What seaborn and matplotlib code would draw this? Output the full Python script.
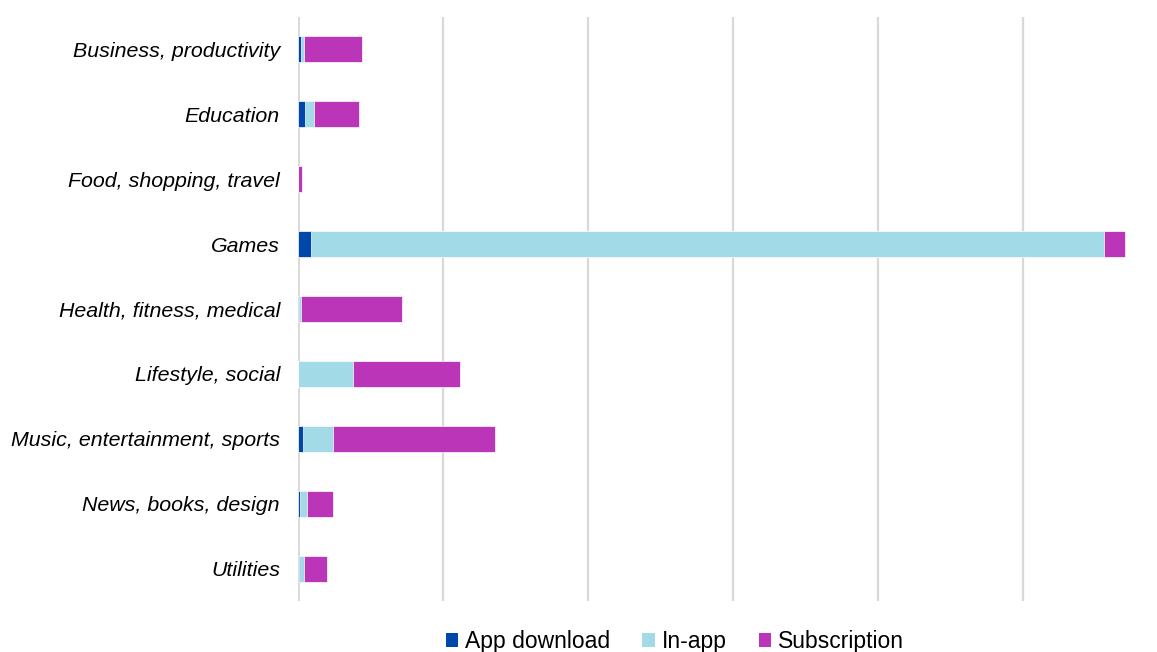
import matplotlib
matplotlib.use("Agg")
import matplotlib.pyplot as plt
from matplotlib.patches import Patch
import numpy as np
import pandas as pd
import seaborn as sns

categories = [
    "Business, productivity",
    "Education",
    "Food, shopping, travel",
    "Games",
    "Health, fitness, medical",
    "Lifestyle, social",
    "Music, entertainment, sports",
    "News, books, design",
    "Utilities",
]
app_download = [21, 48, 0, 90, 7, 2, 34, 14, 10]
in_app = [21, 62, 0, 5470, 14, 379, 207, 48, 28]
subscription = [400, 310, 30, 145, 697, 738, 1117, 179, 159]

series_names = ["App download", "In-app", "Subscription"]
colors = {"App download": "#0047AB", "In-app": "#A2DAE8", "Subscription": "#BA35B8"}

sns.set_theme(style="white")
plt.rcParams["font.family"] = ["Liberation Sans", "DejaVu Sans"]

df = pd.DataFrame({
    "category": categories,
    "App download": app_download,
    "In-app": in_app,
    "Subscription": subscription,
})
# cumulative ends of each stacked segment
df["end_app"] = df["App download"]
df["end_inapp"] = df["end_app"] + df["In-app"]
df["end_sub"] = df["end_inapp"] + df["Subscription"]

fig = plt.figure(figsize=(11.57, 6.52), dpi=100)
ax = fig.add_axes([298 / 1157, 1 - 601 / 652, (1145 - 298) / 1157, (601 - 17) / 652])

# draw the longest layer first so shorter layers sit on top
for col, name in [("end_sub", "Subscription"), ("end_inapp", "In-app"), ("end_app", "App download")]:
    sns.barplot(data=df, x=col, y="category", order=categories, orient="h",
                color=colors[name], width=0.4, saturation=1, ax=ax,
                edgecolor="white", linewidth=0.5)

ax.set_xlim(0, 5840)
ax.set_ylim(8.5, -0.5)
ax.set_xticks(np.arange(0, 5001, 1000))
ax.set_xticklabels([])
ax.xaxis.grid(True, color="#d9d9d9", linewidth=1.6)
ax.set_axisbelow(True)
ax.set_xlabel("")
ax.set_ylabel("")
for s in ax.spines.values():
    s.set_visible(False)
ax.axvline(0, color="#cfcfcf", linewidth=1.8, zorder=0.5)
ax.tick_params(axis="y", length=0, pad=13, labelsize=15.4)
ax.tick_params(axis="x", length=0)
for lbl in ax.get_yticklabels():
    lbl.set_fontstyle("italic")
    lbl.set_color("black")

handles = [Patch(facecolor=colors[n], edgecolor="none") for n in series_names]
fig.legend(handles, series_names, loc="center", bbox_to_anchor=(0.5834, 0.016),
           ncol=3, frameon=False, fontsize=16.5, handlelength=0.55, handleheight=0.55,
           handletextpad=0.3, columnspacing=1.4, labelcolor="black")

fig.savefig("out.png", dpi=100, facecolor="white")
